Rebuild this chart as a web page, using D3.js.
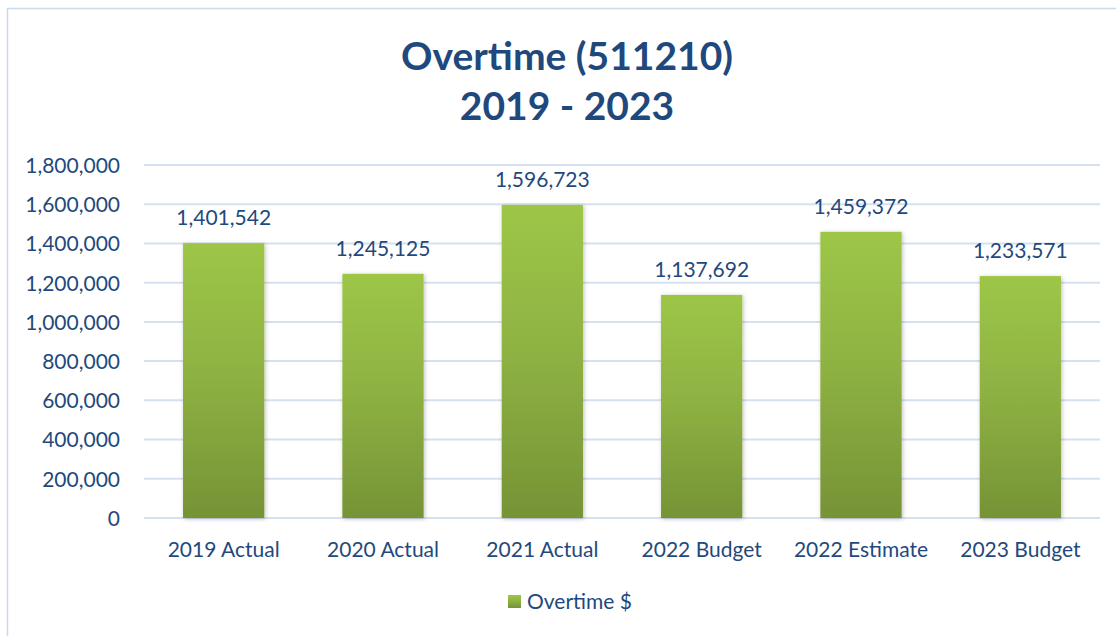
<!DOCTYPE html>
<html>
<head>
<meta charset="utf-8">
<script src="https://cdn.jsdelivr.net/npm/d3@7"></script>
<style>
  body { margin: 0; background: #fff; }
  svg { display: block; font-family: Lato, "Open Sans", sans-serif; }
</style>
</head>
<body>
<script>
// chart data
var categories = ["2019 Actual", "2020 Actual", "2021 Actual", "2022 Budget", "2022 Estimate", "2023 Budget"];
var values     = [1401542, 1245125, 1596723, 1137692, 1459372, 1233571];
var yTicks     = [0, 200000, 400000, 600000, 800000, 1000000, 1200000, 1400000, 1600000, 1800000];
var seriesName = "Overtime $";
var titleLines = ["Overtime (511210)", "2019 - 2023"];

var width  = 1116;
var height = 636;
var margin = {top: 165, right: 16, bottom: 118, left: 144};
var textColor = "#1f497d";

var svg = d3.select("body").append("svg")
    .attr("width", width)
    .attr("height", height);

var defs = svg.append("defs");
var grad = defs.append("linearGradient")
    .attr("id", "barGrad")
    .attr("x1", 0).attr("y1", 0).attr("x2", 0).attr("y2", 1);
grad.append("stop").attr("offset", "0%").attr("stop-color", "#9dc647");
grad.append("stop").attr("offset", "45%").attr("stop-color", "#8fb343");
grad.append("stop").attr("offset", "100%").attr("stop-color", "#769336");

var shadow = defs.append("filter").attr("id", "shadow")
    .attr("x", "-20%").attr("y", "-5%").attr("width", "140%").attr("height", "110%");
shadow.append("feDropShadow")
    .attr("dx", 1).attr("dy", 1).attr("stdDeviation", 2)
    .attr("flood-color", "#000").attr("flood-opacity", 0.25);

// chart frame
svg.append("rect")
    .attr("x", 7.5).attr("y", 8.5)
    .attr("width", width + 10).attr("height", height + 10)
    .attr("fill", "none")
    .attr("stroke", "#c9daef")
    .attr("stroke-width", 1.5);

// title, two lines
svg.selectAll(".title")
    .data(titleLines)
    .enter().append("text")
    .attr("class", "title")
    .attr("x", 567)
    .attr("y", function(d, i) { return 70 + i * 50; })
    .attr("text-anchor", "middle")
    .attr("fill", textColor)
    .style("font-size", "39px")
    .style("font-weight", "bold")
    .text(function(d) { return d; });

var cWidth  = width - margin.left - margin.right;
var cHeight = height - margin.top - margin.bottom;

var g = svg.append("g")
    .attr("transform", "translate(" + margin.left + "," + margin.top + ")");

var x = d3.scaleBand().domain(categories).range([0, cWidth]).paddingInner(0.49).paddingOuter(0.245);
var y = d3.scaleLinear().domain([0, 1800000]).range([cHeight, 0]);

// grid
g.selectAll(".grid")
    .data(yTicks)
    .enter().append("line")
    .attr("x1", 0).attr("x2", cWidth)
    .attr("y1", function(d) { return y(d); })
    .attr("y2", function(d) { return y(d); })
    .attr("stroke", "#d5e1f0")
    .attr("stroke-width", 2);

// y axis
var yAxis = g.append("g")
    .call(d3.axisLeft(y).tickValues(yTicks).tickFormat(d3.format(",")).tickSize(0).tickPadding(24));
yAxis.select(".domain").remove();
yAxis.selectAll("text")
    .attr("fill", textColor)
    .attr("dy", "0.35em")
    .style("font-size", "21px")
    .style("font-family", "Lato, sans-serif");

// x axis
var xAxis = g.append("g")
    .attr("transform", "translate(0," + cHeight + ")")
    .call(d3.axisBottom(x).tickSize(0).tickPadding(24));
xAxis.select(".domain").remove();
xAxis.selectAll("text")
    .attr("fill", textColor)
    .style("font-size", "21px")
    .style("font-family", "Lato, sans-serif");

// bars
g.selectAll(".bar")
    .data(values)
    .enter().append("rect")
    .attr("class", "bar")
    .attr("x", function(d, i) { return x(categories[i]); })
    .attr("y", function(d) { return y(d); })
    .attr("width", x.bandwidth())
    .attr("height", function(d) { return cHeight - y(d); })
    .attr("fill", "url(#barGrad)")
    .attr("filter", "url(#shadow)");

// value labels
g.selectAll(".label")
    .data(values)
    .enter().append("text")
    .attr("x", function(d, i) { return x(categories[i]) + x.bandwidth() / 2; })
    .attr("y", function(d) { return y(d) - 18; })
    .attr("text-anchor", "middle")
    .attr("fill", textColor)
    .style("font-size", "21px")
    .text(function(d) { return d3.format(",")(d); });

// legend
var legend = svg.append("g").attr("transform", "translate(508,595)");
legend.append("rect")
    .attr("width", 13).attr("height", 13)
    .attr("fill", "url(#barGrad)");
legend.append("text")
    .attr("x", 19).attr("y", 14)
    .attr("fill", textColor)
    .style("font-size", "21px")
    .text(seriesName);
</script>
</body>
</html>
